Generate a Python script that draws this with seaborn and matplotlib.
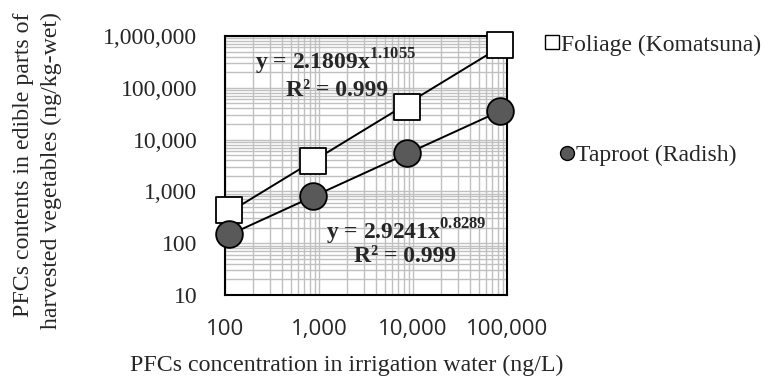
import numpy as np
import pandas as pd
import matplotlib
matplotlib.use('Agg')
import matplotlib.pyplot as plt
import seaborn as sns
from matplotlib.lines import Line2D
from matplotlib.ticker import FuncFormatter, LogLocator, NullFormatter

# data
water_conc = [111, 870, 8600, 84000]          # ng/L
foliage = [430, 3900, 43000, 670000]          # Komatsuna, ng/kg-wet
taproot = [150, 830, 5600, 36000]             # Radish, ng/kg-wet

# power-law trend lines shown on the chart
foliage_fit = (2.1809, 1.1055)
taproot_fit = (2.9241, 0.8289)

x_ticks = [100, 1000, 10000, 100000]
y_ticks = [10, 100, 1000, 10000, 100000, 1000000]

sns.set_style('white')
plt.rcParams['font.family'] = ['Liberation Serif', 'DejaVu Serif']
plt.rcParams['mathtext.fontset'] = 'custom'
plt.rcParams['mathtext.rm'] = 'Liberation Serif'
plt.rcParams['mathtext.bf'] = 'Liberation Serif:bold'

df = pd.DataFrame({'water': water_conc * 2,
                   'content': foliage + taproot,
                   'part': ['Foliage (Komatsuna)'] * 4 + ['Taproot (Radish)'] * 4})

fig = plt.figure(figsize=(7.64, 3.79), dpi=100)
ax = fig.add_axes([0.2945, 0.2216, 0.369, 0.6834])
ax.set_xscale('log')
ax.set_yscale('log')

# trend lines
for (a, b), sub in [(foliage_fit, foliage), (taproot_fit, taproot)]:
    xf = np.geomspace(min(water_conc), max(water_conc), 20)
    sns.lineplot(x=xf, y=a * xf ** b, color='black', lw=1.4, ax=ax, zorder=3)

sns.scatterplot(data=df[df['part'] == 'Foliage (Komatsuna)'], x='water', y='content',
                marker='s', s=330, color='white', edgecolor='black', linewidth=1.3,
                ax=ax, zorder=4, legend=False, clip_on=False)
sns.scatterplot(data=df[df['part'] == 'Taproot (Radish)'], x='water', y='content',
                marker='o', s=370, color='#595959', edgecolor='black', linewidth=1.3,
                ax=ax, zorder=4, legend=False, clip_on=False)

ax.set_xlim(100, 100000)
ax.set_ylim(10, 1000000)
ax.set_xticks(x_ticks)
ax.set_yticks(y_ticks)
ax.xaxis.set_minor_locator(LogLocator(base=10, subs=np.arange(2, 10)))
ax.yaxis.set_minor_locator(LogLocator(base=10, subs=np.arange(2, 10)))
ax.xaxis.set_minor_formatter(NullFormatter())
ax.yaxis.set_minor_formatter(NullFormatter())
fmt = FuncFormatter(lambda v, p: '{:,.0f}'.format(v))
ax.xaxis.set_major_formatter(fmt)
ax.yaxis.set_major_formatter(fmt)
ax.grid(which='both', color='#c0c0c0', lw=1.0, zorder=0)
ax.set_axisbelow(True)
ax.tick_params(which='major', direction='in', length=4, width=1.2, color='black')
ax.tick_params(which='minor', length=0)
ax.tick_params(axis='y', labelsize=17, pad=20)
ax.tick_params(axis='x', labelsize=16, pad=17)
for lab in ax.get_xticklabels():
    lab.set_family(['Open Sans', 'DejaVu Sans'])
for sp in ax.spines.values():
    sp.set_color('black')
    sp.set_linewidth(1.5)
ax.set_xlabel('')
ax.set_ylabel('')

fig.text(347 / 764, 1 - 365 / 379, 'PFCs concentration in irrigation water (ng/L)',
         ha='center', va='center', fontsize=17.2)
fig.text(37.5 / 764, 1 - 170.5 / 379,
         'PFCs contents in edible parts of\nharvested vegetables (ng/kg-wet)',
         ha='center', va='center', rotation=90, fontsize=17.2, linespacing=1.45,
         multialignment='right')

# equations
fig.text(336 / 764, 1 - 62 / 379, r'y = 2.1809x$^{\mathbf{1.1055}}$',
         ha='center', va='center', fontsize=17, fontweight='bold')
fig.text(337 / 764, 1 - 91 / 379, 'R² = 0.999',
         ha='center', va='center', fontsize=17, fontweight='bold')
fig.text(406 / 764, 1 - 232 / 379, r'y = 2.9241x$^{\mathbf{0.8289}}$',
         ha='center', va='center', fontsize=17, fontweight='bold')
fig.text(405 / 764, 1 - 257 / 379, 'R² = 0.999',
         ha='center', va='center', fontsize=17, fontweight='bold')

# legend entries, centered separately like the original
h1 = Line2D([], [], marker='s', ls='none', markerfacecolor='white',
            markeredgecolor='black', markersize=10, markeredgewidth=1)
h2 = Line2D([], [], marker='o', ls='none', markerfacecolor='#595959',
            markeredgecolor='black', markersize=10, markeredgewidth=1)
leg1 = fig.legend(handles=[h1], labels=['Foliage (Komatsuna)'], loc='center',
                  bbox_to_anchor=(653 / 764, 1 - 45 / 379), frameon=False,
                  fontsize=17, handlelength=0.6, handletextpad=0.1)
leg2 = fig.legend(handles=[h2], labels=['Taproot (Radish)'], loc='center',
                  bbox_to_anchor=(648 / 764, 1 - 155 / 379), frameon=False,
                  fontsize=17, handlelength=0.6, handletextpad=0.1)

fig.savefig('out.png', dpi=100)
